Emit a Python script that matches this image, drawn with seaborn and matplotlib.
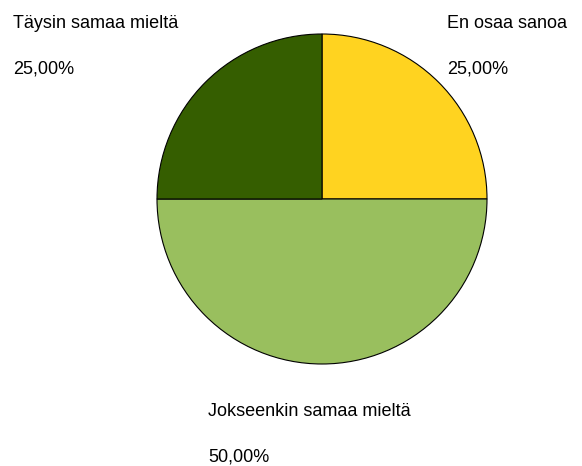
import matplotlib
matplotlib.use('Agg')
import matplotlib.pyplot as plt
import seaborn as sns

# vastaukset ja osuudet (%)
labels = ['En osaa sanoa', 'Jokseenkin samaa mieltä', 'Täysin samaa mieltä']
shares = [25.0, 50.0, 25.0]
colors = ['#FFD320', '#99BF5E', '#355E00']

# tekstien paikat (px, ylhäältä, tekstin perusviiva)
label_pos = [(447, 28), (208, 416), (13, 28)]

sns.set_theme(style='white')
plt.rcParams['font.family'] = ['Liberation Sans', 'DejaVu Sans']

W, H = 582, 466
fig = plt.figure(figsize=(W / 100, H / 100), dpi=100)
ax = fig.add_axes([0, 0, 1, 1])

ax.pie(shares, colors=colors, startangle=90, counterclock=False,
       center=(322, H - 199), radius=165,
       wedgeprops={'edgecolor': 'black', 'linewidth': 0.8})
ax.set_xlim(0, W)
ax.set_ylim(0, H)
ax.set_aspect('equal')
ax.axis('off')

for lab, val, (x, y) in zip(labels, shares, label_pos):
    ax.text(x, H - y, lab, fontsize=13, color='black', ha='left', va='baseline')
    pct = f"{val:.2f}".replace('.', ',') + '%'
    ax.text(x, H - y - 46, pct, fontsize=13, color='black', ha='left', va='baseline')

fig.savefig('out.png', dpi=100, facecolor='white')
